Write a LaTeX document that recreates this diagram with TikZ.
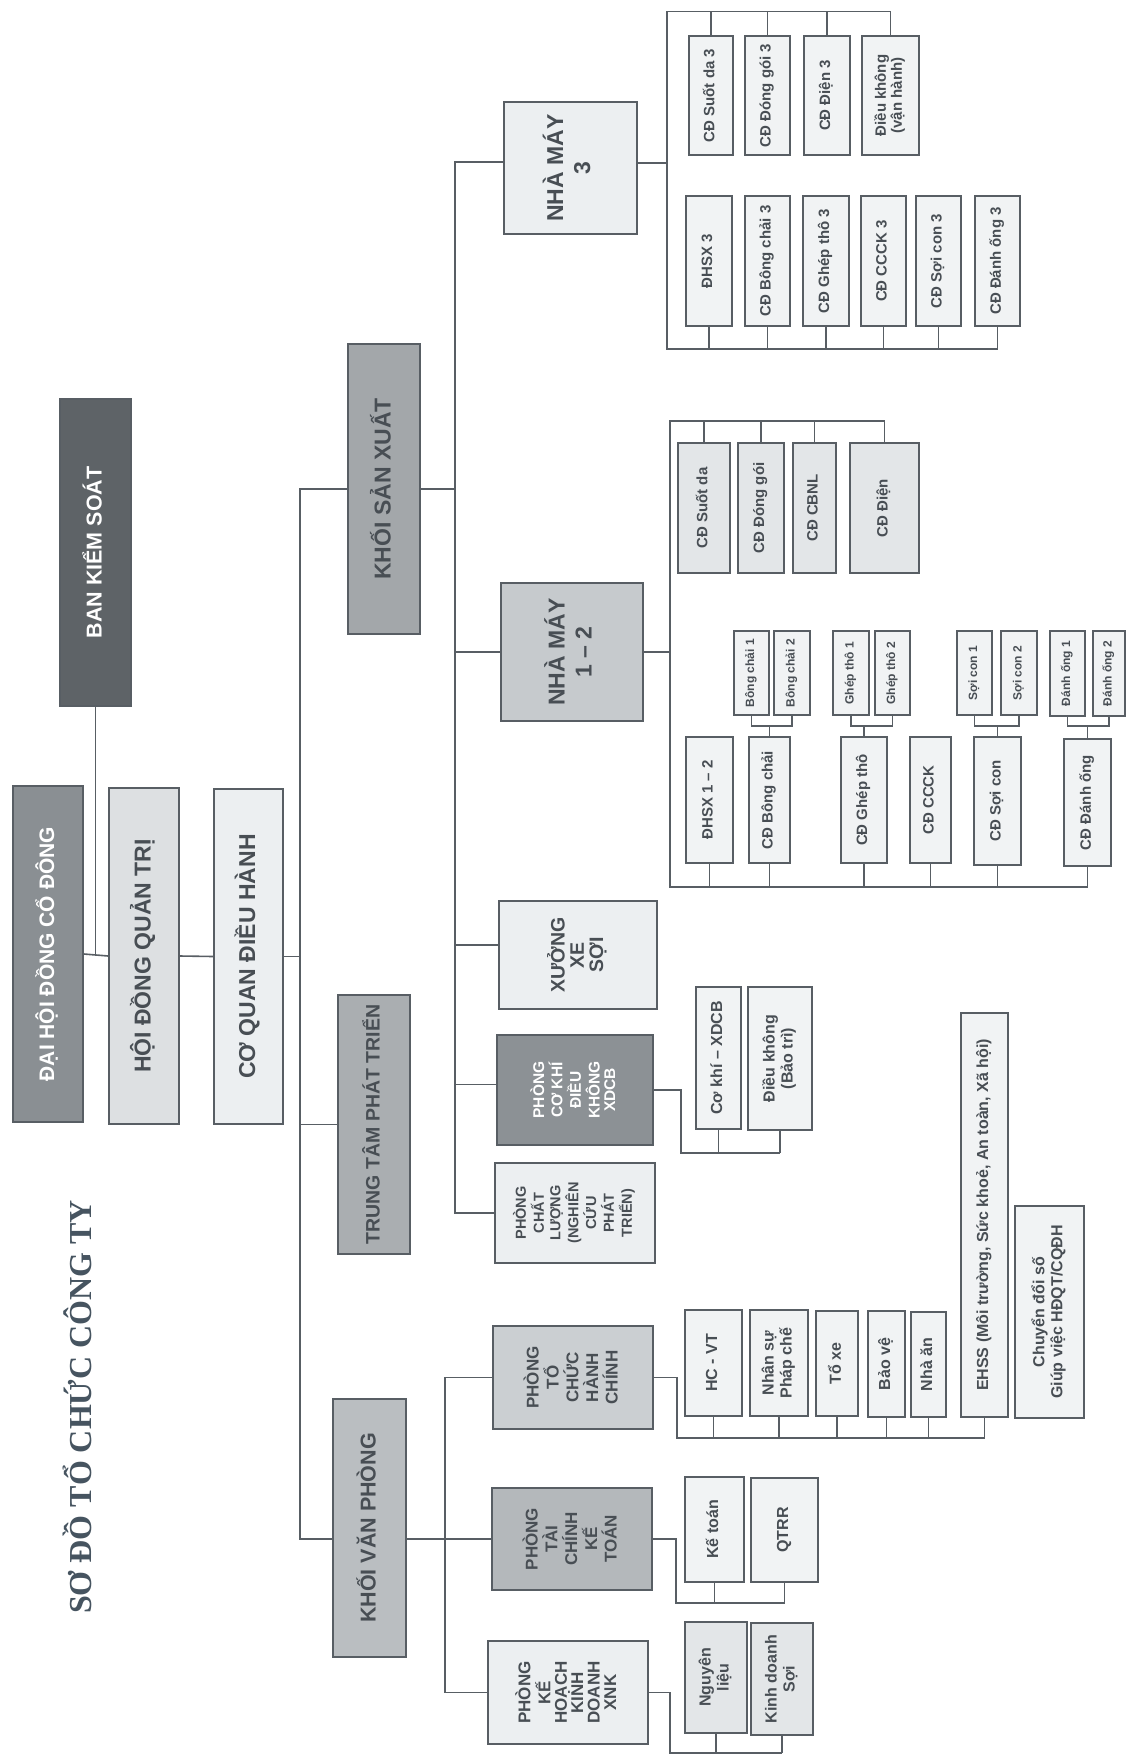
\documentclass[tikz,border=0pt]{standalone}
\usepackage{fontspec}
\usepackage{graphicx}
\setmainfont{Liberation Sans}
\newfontfamily\titlefont{Liberation Serif}
\definecolor{lineC}{RGB}{88,94,100}
\definecolor{txtC}{RGB}{72,78,84}
\definecolor{titleC}{RGB}{70,84,96}
\definecolor{darkF}{RGB}{94,99,103}
\definecolor{gray1F}{RGB}{138,143,147}
\definecolor{pckF}{RGB}{140,145,149}
\definecolor{ksxF}{RGB}{163,167,170}
\definecolor{ttptF}{RGB}{170,174,177}
\definecolor{kvpF}{RGB}{186,190,193}
\definecolor{ptcktF}{RGB}{180,184,187}
\definecolor{nmF}{RGB}{198,202,205}
\definecolor{ptchcF}{RGB}{203,207,210}
\definecolor{hdqtF}{RGB}{221,224,226}
\definecolor{lightF}{RGB}{236,239,241}
\definecolor{subF}{RGB}{241,243,244}
\definecolor{sub2F}{RGB}{227,230,232}
\newcommand{\vt}[1]{\rotatebox{90}{\begin{tabular}{@{}c@{}}#1\end{tabular}}}

\begin{document}
\begin{tikzpicture}[x=1pt,y=1pt,yscale=-1,
  bb/.style args={#1/#2/#3/#4}{minimum width=#3-#1, minimum height=#4-#2, at={({(#1+#3)/2},{(#2+#4)/2})}},
  box/.style={draw=lineC, line width=1.6pt, inner sep=0pt, text=txtC},
  head/.style={box, font=\bfseries\fontsize{23}{24}\selectfont},
  nmbox/.style={box, font=\bfseries\fontsize{23}{27}\selectfont},
  phong/.style={box, font=\bfseries\fontsize{17}{15.5}\selectfont},
  sub/.style={box, fill=subF, font=\bfseries\fontsize{15}{16}\selectfont},
  subb/.style={box, fill=subF, font=\bfseries\fontsize{16}{18}\selectfont},
  tiny/.style={box, fill=subF, font=\bfseries\fontsize{12}{13}\selectfont},
  conn/.style={draw=lineC, line width=1.6pt},
  titletxt/.style={rotate=90, text=titleC, font=\titlefont\bfseries\fontsize{32}{34}\selectfont}]
\useasboundingbox (0,0) rectangle (1126,1756);
\fill[white] (0,0) rectangle (1126,1756);

% Text Node: title
\node[titletxt] (title) at (77,1407) {SƠ ĐỒ TỔ CHỨC CÔNG TY};

%Shape: top level boxes
\node[head, fill=darkF, text=white, font=\bfseries\fontsize{21.5}{23}\selectfont, bb=60/399/131/706] (bks) {\vt{BAN KIỂM SOÁT}};
\node[head, fill=gray1F, text=white, font=\bfseries\fontsize{21}{22}\selectfont, bb=13/786/83/1122] (dhcd) {\vt{ĐẠI HỘI ĐỒNG CỔ ĐÔNG}};
\node[head, fill=hdqtF, bb=109/788/179/1124] (hdqt) {\vt{HỘI ĐỒNG QUẢN TRỊ}};
\node[head, fill=lightF, bb=214/789/283/1124] (cqdh) {\vt{CƠ QUAN ĐIỀU HÀNH}};
\node[head, fill=ksxF, bb=348/344/420/634] (ksx) {\vt{KHỐI SẢN XUẤT}};
\node[head, fill=ttptF, font=\bfseries\fontsize{19.5}{21}\selectfont, bb=338/995/410/1254] (ttpt) {\vt{TRUNG TÂM PHÁT TRIỂN}};
\node[head, fill=kvpF, font=\bfseries\fontsize{21.5}{23}\selectfont, bb=333/1399/406/1657] (kvp) {\vt{KHỐI VĂN PHÒNG}};

%Shape: khoi san xuat
\node[nmbox, fill=lightF, bb=504/102/637/234] (nm3) {\vt{NHÀ MÁY\\3}};
\node[nmbox, fill=nmF, bb=501/583/643/721] (nm12) {\vt{NHÀ MÁY\\1 – 2}};
\node[phong, fill=lightF, font=\bfseries\fontsize{19.5}{19}\selectfont, bb=499/901/657/1009] (xuong) {\vt{XƯỞNG\\XE\\SỢI}};
\node[phong, fill=pckF, text=white, font=\bfseries\fontsize{15.5}{15.5}\selectfont, bb=497/1035/653/1145] (pck) {\vt{PHÒNG\\CƠ KHÍ\\ĐIỀU\\KHÔNG\\XDCB}};
\node[phong, fill=lightF, font=\bfseries\fontsize{14.5}{16.5}\selectfont, bb=495/1163/655/1263] (pcl) {\vt{PHÒNG\\CHẤT\\LƯỢNG\\(NGHIÊN\\CỨU\\PHÁT\\TRIỂN)}};

%Shape: khoi van phong
\node[phong, fill=ptchcF, bb=493/1326/653/1429] (ptchc) {\vt{PHÒNG\\TỔ\\CHỨC\\HÀNH\\CHÍNH}};
\node[phong, fill=ptcktF, bb=492/1488/652/1590] (ptckt) {\vt{PHÒNG\\TÀI\\CHÍNH\\KẾ\\TOÁN}};
\node[phong, fill=lightF, bb=488/1641/648/1744] (pkh) {\vt{PHÒNG\\KẾ\\HOẠCH\\KINH\\DOANH\\XNK}};

%Shape: nha may 3
\node[sub, bb=689/36/733/155] (sd3) {\vt{CĐ Suốt da 3}};
\node[sub, bb=745/36/790/155] (dg3) {\vt{CĐ Đóng gói 3}};
\node[sub, bb=804/36/850/155] (dien3) {\vt{CĐ Điện 3}};
\node[sub, bb=862/36/919/155] (dkvh) {\vt{Điều không\\(vận hành)}};
\node[sub, bb=686/196/732/326] (dhsx3) {\vt{ĐHSX 3}};
\node[sub, bb=745/196/790/326] (bc3) {\vt{CĐ Bông chải 3}};
\node[sub, bb=803/196/849/326] (gt3) {\vt{CĐ Ghép thô 3}};
\node[sub, bb=861/196/906/326] (ccck3) {\vt{CĐ CCCK 3}};
\node[sub, bb=916/196/961/326] (sc3) {\vt{CĐ Sợi con 3}};
\node[sub, bb=975/196/1020/326] (do3) {\vt{CĐ Đánh ống 3}};

%Shape: nha may 1 - 2
\node[sub, fill=sub2F, bb=678/443/730/573] (sd) {\vt{CĐ Suốt da}};
\node[sub, fill=sub2F, bb=738/443/784/573] (dg) {\vt{CĐ Đóng gói}};
\node[sub, fill=sub2F, bb=793/443/836/573] (cbnl) {\vt{CĐ CBNL}};
\node[sub, fill=sub2F, bb=850/443/919/573] (dien) {\vt{CĐ Điện}};
\node[sub, bb=686/737/733/863] (dhsx12) {\vt{ĐHSX 1 – 2}};
\node[sub, bb=749/737/790/863] (bc) {\vt{CĐ Bông chải}};
\node[sub, bb=841/737/887/863] (gt) {\vt{CĐ Ghép thô}};
\node[sub, bb=910/737/951/863] (ccck) {\vt{CĐ CCCK}};
\node[sub, bb=974/737/1021/865] (scon) {\vt{CĐ Sợi con}};
\node[sub, bb=1064/739/1111/866] (dong) {\vt{CĐ Đánh ống}};
\node[tiny, bb=734/631/769/715] (bc1) {\vt{Bông chải 1}};
\node[tiny, bb=774/631/810/715] (bc2) {\vt{Bông chải 2}};
\node[tiny, bb=833/631/869/715] (gt1) {\vt{Ghép thô 1}};
\node[tiny, bb=875/631/910/715] (gt2) {\vt{Ghép thô 2}};
\node[tiny, bb=957/631/992/715] (sc1) {\vt{Sợi con 1}};
\node[tiny, bb=1001/631/1037/715] (sc2) {\vt{Sợi con 2}};
\node[tiny, bb=1050/631/1085/716] (do1) {\vt{Đánh ống 1}};
\node[tiny, bb=1093/631/1125/716] (do2) {\vt{Đánh ống 2}};

%Shape: phong co khi
\node[subb, bb=696/987/741/1129] (ckx) {\vt{Cơ khí – XDCB}};
\node[subb, bb=748/987/812/1130] (dkbt) {\vt{Điều không\\(Bảo trì)}};

%Shape: phong to chuc hanh chinh
\node[subb, bb=685/1310/742/1416] (hcvt) {\vt{HC - VT}};
\node[subb, bb=750/1310/808/1416] (nspc) {\vt{Nhân sự\\Pháp chế}};
\node[subb, bb=816/1311/858/1416] (toxe) {\vt{Tổ xe}};
\node[subb, bb=868/1311/905/1417] (baove) {\vt{Bảo vệ}};
\node[subb, bb=911/1312/946/1417] (nhaan) {\vt{Nhà ăn}};
\node[subb, bb=961/1013/1008/1417] (ehss) {\vt{EHSS (Môi trường, Sức khoẻ, An toàn, Xã hội)}};
\node[subb, bb=1015/1206/1084/1418] (cds) {\vt{Chuyển đổi số\\Giúp việc HĐQT/CQĐH}};

%Shape: tai chinh, ke hoach
\node[subb, bb=685/1477/744/1582] (ketoan) {\vt{Kế toán}};
\node[subb, bb=751/1478/818/1582] (qtrr) {\vt{QTRR}};
\node[subb, fill=sub2F, bb=685/1622/747/1733] (ngl) {\vt{Nguyên\\liệu}};
\node[subb, fill=sub2F, bb=751/1623/813/1735] (kds) {\vt{Kinh doanh\\Sợi}};

%Straight Lines: top level
\draw[conn] (bks.south) -- (bks.south |- dhcd.east);
\draw[conn] (dhcd.east) -- (hdqt.west);
\draw[conn] (hdqt.east) -- (cqdh.west);
\coordinate (tA) at (300,0);
\draw[conn] (ksx.west) -- (ksx.west -| tA) -- (tA |- ptckt.west) -- (kvp.west |- ptckt.west);
\draw[conn] (cqdh.east) -- (cqdh.east -| tA);
\draw[conn] (ttpt.west) -- (ttpt.west -| tA);

%Straight Lines: khoi san xuat
\coordinate (tB) at (455,0);
\draw[conn] (ksx.east) -- (ksx.east -| tB);
\draw[conn] (nm3.175) -- (nm3.175 -| tB) -- (tB |- pcl.west) -- (pcl.west);
\draw[conn] (nm12.west) -- (nm12.west -| tB);
\draw[conn] (xuong.173) -- (xuong.173 -| tB);
\draw[conn] (pck.176) -- (pck.176 -| tB);

%Straight Lines: khoi van phong
\coordinate (tC) at (445,0);
\draw[conn] (ptckt.west) -- (kvp.east |- ptckt.west);
\draw[conn] (ptchc.west) -- (ptchc.west -| tC) -- (tC |- pkh.west) -- (pkh.west);

%Straight Lines: nha may 3
\coordinate (n3a) at (667,11.5);
\coordinate (n3b) at (667,349);
\draw[conn] (nm3.4) -- (nm3.4 -| n3a);
\draw[conn] (dkvh.north |- n3a) -- (n3a) -- (n3b) -- (do3.south |- n3b);
\draw[conn] (sd3.north) -- (sd3.north |- n3a);
\draw[conn] (dg3.north) -- (dg3.north |- n3a);
\draw[conn] (dien3.north) -- (dien3.north |- n3a);
\draw[conn] (dkvh.north) -- (dkvh.north |- n3a);
\draw[conn] (dhsx3.south) -- (dhsx3.south |- n3b);
\draw[conn] (bc3.south) -- (bc3.south |- n3b);
\draw[conn] (gt3.south) -- (gt3.south |- n3b);
\draw[conn] (ccck3.south) -- (ccck3.south |- n3b);
\draw[conn] (sc3.south) -- (sc3.south |- n3b);
\draw[conn] (do3.south) -- (do3.south |- n3b);

%Straight Lines: nha may 1 - 2
\coordinate (n12a) at (670,421);
\coordinate (n12b) at (670,887);
\coordinate (k12) at (0,726);
\draw[conn] (nm12.east) -- (nm12.east -| n12a);
\draw[conn] (dien.north |- n12a) -- (n12a) -- (n12b) -- (dong.south |- n12b);
\draw[conn] (sd.north) -- (sd.north |- n12a);
\draw[conn] (dg.north) -- (dg.north |- n12a);
\draw[conn] (cbnl.north) -- (cbnl.north |- n12a);
\draw[conn] (dien.north) -- (dien.north |- n12a);
\draw[conn] (dhsx12.south) -- (dhsx12.south |- n12b);
\draw[conn] (bc.south) -- (bc.south |- n12b);
\draw[conn] (gt.south) -- (gt.south |- n12b);
\draw[conn] (ccck.south) -- (ccck.south |- n12b);
\draw[conn] (scon.south) -- (scon.south |- n12b);
\draw[conn] (dong.south) -- (dong.south |- n12b);
\draw[conn] (bc1.south) -- (bc1.south |- k12) -- (bc2.south |- k12) -- (bc2.south);
\draw[conn] (bc.north) -- (bc.north |- k12);
\draw[conn] (gt1.south) -- (gt1.south |- k12) -- (gt2.south |- k12) -- (gt2.south);
\draw[conn] (gt.north) -- (gt.north |- k12);
\draw[conn] (sc1.south) -- (sc1.south |- k12) -- (sc2.south |- k12) -- (sc2.south);
\draw[conn] (scon.north) -- (scon.north |- k12);
\draw[conn] (do1.south) -- (do1.south |- k12) -- (do2.south |- k12) -- (do2.south);
\draw[conn] (dong.north) -- (dong.north |- k12);

%Straight Lines: phong co khi
\coordinate (pk) at (681,1153);
\draw[conn] (pck.east) -| (pk) -- (dkbt.south |- pk);
\draw[conn] (ckx.south) -- (ckx.south |- pk);
\draw[conn] (dkbt.south) -- (dkbt.south |- pk);

%Straight Lines: phong ban van phong
\coordinate (pt1) at (677,1438);
\draw[conn] (ptchc.east) -| (pt1) -- (ehss.south |- pt1);
\draw[conn] (hcvt.south) -- (hcvt.south |- pt1);
\draw[conn] (nspc.south) -- (nspc.south |- pt1);
\draw[conn] (toxe.south) -- (toxe.south |- pt1);
\draw[conn] (baove.south) -- (baove.south |- pt1);
\draw[conn] (nhaan.south) -- (nhaan.south |- pt1);
\draw[conn] (ehss.south) -- (ehss.south |- pt1);
\coordinate (pt2) at (676,1603);
\draw[conn] (ptckt.east) -| (pt2) -- (qtrr.south |- pt2);
\draw[conn] (ketoan.south) -- (ketoan.south |- pt2);
\draw[conn] (qtrr.south) -- (qtrr.south |- pt2);
\coordinate (pt3) at (670,1753);
\draw[conn] (pkh.east) -| (pt3) -- (kds.south |- pt3);
\draw[conn] (ngl.south) -- (ngl.south |- pt3);
\draw[conn] (kds.south) -- (kds.south |- pt3);

\end{tikzpicture}
\end{document}
